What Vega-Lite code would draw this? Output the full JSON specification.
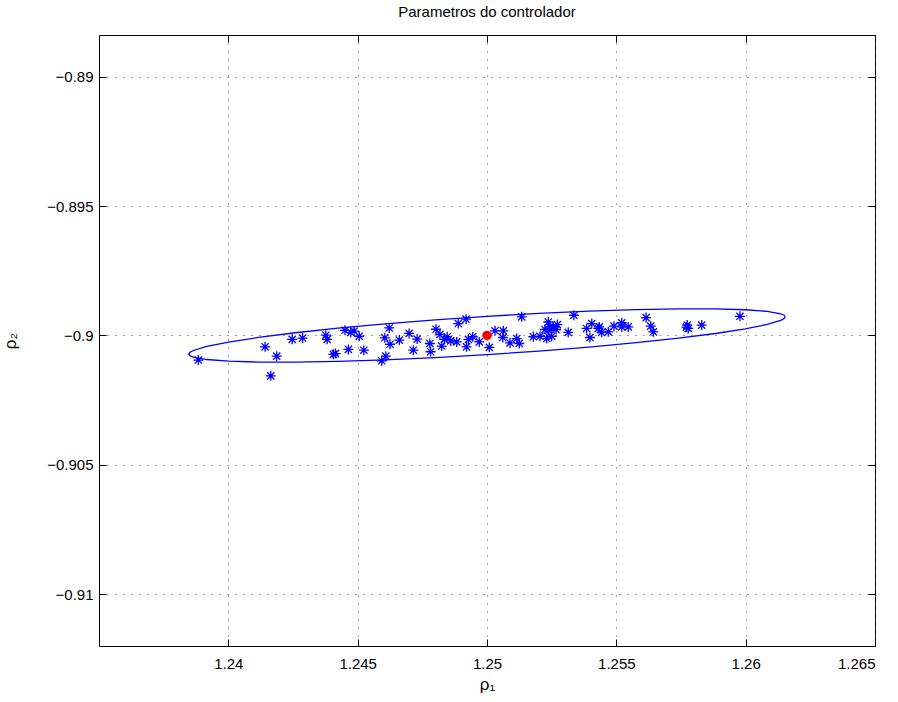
{
  "$schema": "https://vega.github.io/schema/vega-lite/v6.json",
  "width": 776,
  "height": 611,
  "autosize": "none",
  "padding": {"left": 99, "top": 35, "right": 23, "bottom": 56},
  "background": "white",
  "config": {
    "view": {"stroke": "black", "strokeWidth": 1},
    "font": "Liberation Sans",
    "axis": {
      "labelFont": "Liberation Sans",
      "labelFontSize": 15,
      "labelColor": "black",
      "titleFont": "Liberation Sans",
      "titleFontWeight": "normal",
      "titleColor": "black",
      "domain": false,
      "tickColor": "black",
      "gridColor": "#444",
      "gridDash": [1, 7],
      "gridWidth": 1
    }
  },
  "title": {
    "text": "Parametros do controlador",
    "font": "Liberation Sans",
    "fontSize": 15,
    "fontWeight": "normal",
    "color": "black",
    "offset": 15
  },
  "datasets": {
    "ellipse": [
      {"i": 0, "rho1": 1.26153, "rho2": -0.899279},
      {"i": 1, "rho1": 1.261486, "rho2": -0.899347},
      {"i": 2, "rho1": 1.261355, "rho2": -0.899419},
      {"i": 3, "rho1": 1.260835, "rho2": -0.899576},
      {"i": 4, "rho1": 1.259985, "rho2": -0.899746},
      {"i": 5, "rho1": 1.258832, "rho2": -0.899924},
      {"i": 6, "rho1": 1.257411, "rho2": -0.900104},
      {"i": 7, "rho1": 1.255765, "rho2": -0.90028},
      {"i": 8, "rho1": 1.253943, "rho2": -0.900449},
      {"i": 9, "rho1": 1.252002, "rho2": -0.900604},
      {"i": 10, "rho1": 1.25, "rho2": -0.90074},
      {"i": 11, "rho1": 1.247998, "rho2": -0.900854},
      {"i": 12, "rho1": 1.246057, "rho2": -0.900942},
      {"i": 13, "rho1": 1.244235, "rho2": -0.901001},
      {"i": 14, "rho1": 1.242589, "rho2": -0.90103},
      {"i": 15, "rho1": 1.241168, "rho2": -0.901028},
      {"i": 16, "rho1": 1.240015, "rho2": -0.900994},
      {"i": 17, "rho1": 1.239165, "rho2": -0.90093},
      {"i": 18, "rho1": 1.238645, "rho2": -0.900838},
      {"i": 19, "rho1": 1.238514, "rho2": -0.900782},
      {"i": 20, "rho1": 1.23847, "rho2": -0.900721},
      {"i": 21, "rho1": 1.238514, "rho2": -0.900653},
      {"i": 22, "rho1": 1.238645, "rho2": -0.900581},
      {"i": 23, "rho1": 1.239165, "rho2": -0.900424},
      {"i": 24, "rho1": 1.240015, "rho2": -0.900254},
      {"i": 25, "rho1": 1.241168, "rho2": -0.900076},
      {"i": 26, "rho1": 1.242589, "rho2": -0.899896},
      {"i": 27, "rho1": 1.244235, "rho2": -0.89972},
      {"i": 28, "rho1": 1.246057, "rho2": -0.899551},
      {"i": 29, "rho1": 1.247998, "rho2": -0.899396},
      {"i": 30, "rho1": 1.25, "rho2": -0.89926},
      {"i": 31, "rho1": 1.252002, "rho2": -0.899146},
      {"i": 32, "rho1": 1.253943, "rho2": -0.899058},
      {"i": 33, "rho1": 1.255765, "rho2": -0.898999},
      {"i": 34, "rho1": 1.257411, "rho2": -0.89897},
      {"i": 35, "rho1": 1.258832, "rho2": -0.898972},
      {"i": 36, "rho1": 1.259985, "rho2": -0.899006},
      {"i": 37, "rho1": 1.260835, "rho2": -0.89907},
      {"i": 38, "rho1": 1.261355, "rho2": -0.899162},
      {"i": 39, "rho1": 1.261486, "rho2": -0.899218},
      {"i": 40, "rho1": 1.26153, "rho2": -0.899279}
    ],
    "estimates": [
      {"rho1": 1.23884, "rho2": -0.90095},
      {"rho1": 1.24142, "rho2": -0.90044},
      {"rho1": 1.24187, "rho2": -0.9008},
      {"rho1": 1.24164, "rho2": -0.90156},
      {"rho1": 1.24247, "rho2": -0.90015},
      {"rho1": 1.24287, "rho2": -0.9001},
      {"rho1": 1.24377, "rho2": -0.89999},
      {"rho1": 1.24382, "rho2": -0.90015},
      {"rho1": 1.24406, "rho2": -0.90073},
      {"rho1": 1.24414, "rho2": -0.9007},
      {"rho1": 1.24451, "rho2": -0.8998},
      {"rho1": 1.24473, "rho2": -0.89988},
      {"rho1": 1.24486, "rho2": -0.89983},
      {"rho1": 1.24506, "rho2": -0.90003},
      {"rho1": 1.24464, "rho2": -0.90054},
      {"rho1": 1.24524, "rho2": -0.90057},
      {"rho1": 1.24622, "rho2": -0.89971},
      {"rho1": 1.24605, "rho2": -0.90009},
      {"rho1": 1.24625, "rho2": -0.90034},
      {"rho1": 1.24661, "rho2": -0.90018},
      {"rho1": 1.24699, "rho2": -0.89992},
      {"rho1": 1.2473, "rho2": -0.90014},
      {"rho1": 1.24715, "rho2": -0.90057},
      {"rho1": 1.24593, "rho2": -0.90098},
      {"rho1": 1.24609, "rho2": -0.9008},
      {"rho1": 1.24779, "rho2": -0.90031},
      {"rho1": 1.24782, "rho2": -0.90063},
      {"rho1": 1.24803, "rho2": -0.89976},
      {"rho1": 1.24818, "rho2": -0.89996},
      {"rho1": 1.24825, "rho2": -0.90041},
      {"rho1": 1.24835, "rho2": -0.90015},
      {"rho1": 1.24846, "rho2": -0.90005},
      {"rho1": 1.2486, "rho2": -0.90021},
      {"rho1": 1.24883, "rho2": -0.90025},
      {"rho1": 1.24889, "rho2": -0.89954},
      {"rho1": 1.24919, "rho2": -0.89937},
      {"rho1": 1.24928, "rho2": -0.90015},
      {"rho1": 1.24921, "rho2": -0.90044},
      {"rho1": 1.24945, "rho2": -0.90005},
      {"rho1": 1.2497, "rho2": -0.90025},
      {"rho1": 1.25009, "rho2": -0.90046},
      {"rho1": 1.25031, "rho2": -0.89982},
      {"rho1": 1.25063, "rho2": -0.89982},
      {"rho1": 1.25061, "rho2": -0.90008},
      {"rho1": 1.25089, "rho2": -0.90029},
      {"rho1": 1.25115, "rho2": -0.90012},
      {"rho1": 1.25125, "rho2": -0.90031},
      {"rho1": 1.25134, "rho2": -0.89928},
      {"rho1": 1.25179, "rho2": -0.90005},
      {"rho1": 1.25205, "rho2": -0.90003},
      {"rho1": 1.25224, "rho2": -0.89977},
      {"rho1": 1.25237, "rho2": -0.89948},
      {"rho1": 1.25243, "rho2": -0.89967},
      {"rho1": 1.2525, "rho2": -0.90003},
      {"rho1": 1.25267, "rho2": -0.89977},
      {"rho1": 1.25272, "rho2": -0.89958},
      {"rho1": 1.25231, "rho2": -0.90012},
      {"rho1": 1.25237, "rho2": -0.8998},
      {"rho1": 1.25256, "rho2": -0.89967},
      {"rho1": 1.25314, "rho2": -0.89988},
      {"rho1": 1.25336, "rho2": -0.89922},
      {"rho1": 1.25385, "rho2": -0.89973},
      {"rho1": 1.25405, "rho2": -0.89954},
      {"rho1": 1.25398, "rho2": -0.90008},
      {"rho1": 1.2543, "rho2": -0.89973},
      {"rho1": 1.25434, "rho2": -0.89967},
      {"rho1": 1.25443, "rho2": -0.89988},
      {"rho1": 1.25469, "rho2": -0.89986},
      {"rho1": 1.25491, "rho2": -0.89964},
      {"rho1": 1.25521, "rho2": -0.89951},
      {"rho1": 1.25521, "rho2": -0.89967},
      {"rho1": 1.25546, "rho2": -0.89967},
      {"rho1": 1.25615, "rho2": -0.89931},
      {"rho1": 1.25633, "rho2": -0.89964},
      {"rho1": 1.25643, "rho2": -0.89986},
      {"rho1": 1.25774, "rho2": -0.8996},
      {"rho1": 1.25778, "rho2": -0.89973},
      {"rho1": 1.25771, "rho2": -0.89968},
      {"rho1": 1.2583, "rho2": -0.8996},
      {"rho1": 1.25978, "rho2": -0.89926}
    ],
    "nominal": [
      {"rho1": 1.25, "rho2": -0.9}
    ]
  },
  "layer": [
    {
      "data": {"name": "ellipse"},
      "mark": {"type": "line", "color": "#0000ff", "strokeWidth": 1.3, "clip": true},
      "encoding": {
        "x": {
          "field": "rho1", "type": "quantitative",
          "scale": {"domain": [1.235, 1.265], "nice": false, "zero": false},
          "axis": {
            "orient": "bottom",
            "values": [1.24, 1.245, 1.25, 1.255, 1.26, 1.265],
            "format": "~g",
            "grid": true,
            "tickSize": -7,
            "labelPadding": 17,
            "title": "ρ₁",
            "titleFontSize": 17,
            "titlePadding": 5
          }
        },
        "y": {
          "field": "rho2", "type": "quantitative",
          "scale": {"domain": [-0.912, -0.88839], "nice": false, "zero": false},
          "axis": {
            "orient": "left",
            "values": [-0.91, -0.905, -0.9, -0.895, -0.89],
            "format": "~g",
            "grid": true,
            "tickSize": -7,
            "labelPadding": 13,
            "title": "ρ₂",
            "titleFontSize": 17,
            "titlePadding": 27
          }
        },
        "order": {"field": "i", "type": "quantitative"}
      }
    },
    {
      "data": {"name": "estimates"},
      "mark": {
        "type": "point",
        "shape": "M-1,0L1,0M0,-1L0,1M-0.72,-0.72L0.72,0.72M-0.72,0.72L0.72,-0.72",
        "filled": false,
        "color": "#0000ff",
        "strokeWidth": 1.3,
        "size": 100,
        "opacity": 1
      },
      "encoding": {
        "x": {
          "field": "rho1", "type": "quantitative",
          "axis": {
            "orient": "top",
            "values": [1.24, 1.245, 1.25, 1.255, 1.26, 1.265],
            "labels": false,
            "grid": false,
            "tickSize": -7,
            "title": null
          }
        },
        "y": {
          "field": "rho2", "type": "quantitative",
          "axis": {
            "orient": "right",
            "values": [-0.91, -0.905, -0.9, -0.895, -0.89],
            "labels": false,
            "grid": false,
            "tickSize": -7,
            "title": null
          }
        }
      }
    },
    {
      "data": {"name": "nominal"},
      "mark": {"type": "circle", "color": "#ff0000", "size": 90, "opacity": 1},
      "encoding": {
        "x": {"field": "rho1", "type": "quantitative", "axis": null},
        "y": {"field": "rho2", "type": "quantitative", "axis": null}
      }
    }
  ],
  "resolve": {"axis": {"x": "independent", "y": "independent"}}
}
